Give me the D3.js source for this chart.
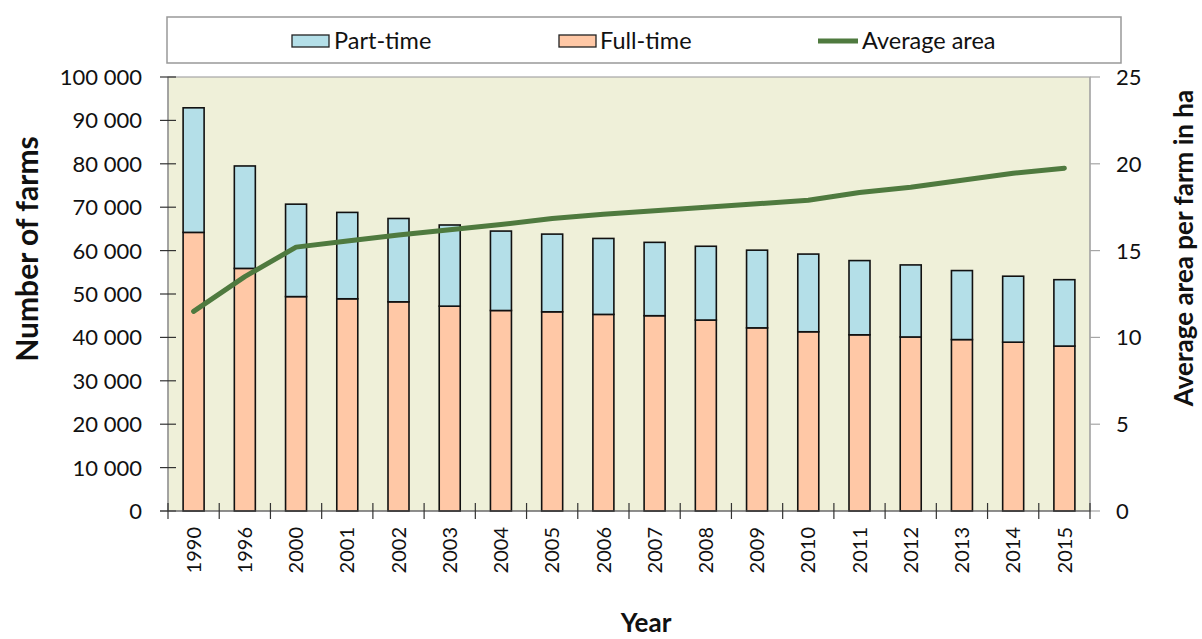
<!DOCTYPE html>
<html>
<head>
<meta charset="utf-8">
<script src="https://cdn.jsdelivr.net/npm/d3@7/dist/d3.min.js"></script>
<style>
  html, body { margin: 0; padding: 0; background: #ffffff; }
  svg { display: block; }
  text { font-family: Lato, "Open Sans", sans-serif; fill: #111; }
</style>
</head>
<body>
<svg id="chart" width="1202" height="639"></svg>
<script>
// Farm structure by year: number of farms (stacked) and average farm size
const years = ["1990","1996","2000","2001","2002","2003","2004","2005","2006","2007","2008","2009","2010","2011","2012","2013","2014","2015"];
const fullTime = [64200, 55900, 49400, 48900, 48200, 47200, 46200, 45900, 45300, 45000, 44000, 42200, 41300, 40600, 40100, 39500, 38900, 38000];
const totalFarms = [92900, 79500, 70700, 68800, 67400, 65900, 64500, 63800, 62800, 61900, 61000, 60100, 59200, 57700, 56700, 55400, 54100, 53300];
const partTime = totalFarms.map((t, i) => t - fullTime[i]);
const avgArea = [11.5, 13.5, 15.2, 15.55, 15.9, 16.2, 16.5, 16.85, 17.1, 17.3, 17.5, 17.7, 17.9, 18.35, 18.65, 19.05, 19.45, 19.75];
const leftTicks = [0, 10000, 20000, 30000, 40000, 50000, 60000, 70000, 80000, 90000, 100000];
const rightTicks = [0, 5, 10, 15, 20, 25];
const seriesNames = ["Part-time", "Full-time", "Average area"];

const colors = { part: "#b4dfe8", full: "#ffc8a6", line: "#4f7a3f", plot: "#eff0d9" };

const svg = d3.select("#chart");
const plot = { left: 168, right: 1090, top: 77, bottom: 511 };

const x = d3.scaleBand().domain(years).range([plot.left, plot.right]).padding(0);
const bw = x.bandwidth();
const barW = bw * 0.41;
const yL = d3.scaleLinear().domain([0, 100000]).range([plot.bottom, plot.top]);
const yR = d3.scaleLinear().domain([0, 25]).range([plot.bottom, plot.top]);

// plot background
svg.append("rect")
  .attr("x", plot.left).attr("y", plot.top)
  .attr("width", plot.right - plot.left).attr("height", plot.bottom - plot.top)
  .attr("fill", colors.plot).attr("stroke", "#a6a6a6").attr("stroke-width", 1.2);

// stacked bars
const rows = years.map((yr, i) => ({ year: yr, full: fullTime[i], part: partTime[i] }));
const stack = d3.stack().keys(["full", "part"])(rows);
const fills = { full: colors.full, part: colors.part };
stack.forEach(layer => {
  svg.append("g").selectAll("rect").data(layer).join("rect")
    .attr("x", d => x(d.data.year) + (bw - barW) / 2)
    .attr("y", d => yL(d[1]))
    .attr("width", barW)
    .attr("height", d => yL(d[0]) - yL(d[1]))
    .attr("fill", fills[layer.key])
    .attr("stroke", "#111").attr("stroke-width", 1.6);
});

// left axis
const gL = svg.append("g");
gL.append("line").attr("x1", plot.left).attr("x2", plot.left)
  .attr("y1", plot.top).attr("y2", plot.bottom).attr("stroke", "#8c8c8c").attr("stroke-width", 1.2);
gL.selectAll("line.t").data(leftTicks).join("line").attr("class", "t")
  .attr("x1", plot.left - 8).attr("x2", plot.left + 8)
  .attr("y1", d => yL(d)).attr("y2", d => yL(d))
  .attr("stroke", "#333").attr("stroke-width", 1.2);
gL.selectAll("text").data(leftTicks).join("text")
  .attr("x", 142).attr("y", d => yL(d)).attr("dy", "0.36em")
  .attr("text-anchor", "end").attr("font-size", 22)
  .text(d => d3.format(",")(d).replace(/,/g, " "));

// right axis
const gR = svg.append("g");
gR.append("line").attr("x1", plot.right).attr("x2", plot.right)
  .attr("y1", plot.top).attr("y2", plot.bottom).attr("stroke", "#a6a6a6").attr("stroke-width", 1.2);
gR.selectAll("line.t").data(rightTicks).join("line").attr("class", "t")
  .attr("x1", plot.right).attr("x2", plot.right + 10)
  .attr("y1", d => yR(d)).attr("y2", d => yR(d))
  .attr("stroke", "#a6a6a6").attr("stroke-width", 1.2);
gR.selectAll("text").data(rightTicks).join("text")
  .attr("x", 1116).attr("y", d => yR(d)).attr("dy", "0.36em")
  .attr("text-anchor", "start").attr("font-size", 22)
  .text(d => d);

// bottom axis with crossing ticks at category boundaries
const gB = svg.append("g");
gB.append("line").attr("x1", plot.left - 8).attr("x2", plot.right)
  .attr("y1", plot.bottom).attr("y2", plot.bottom).attr("stroke", "#555").attr("stroke-width", 1.2);
const bounds = d3.range(years.length + 1).map(i => plot.left + i * bw);
gB.selectAll("line.t").data(bounds).join("line").attr("class", "t")
  .attr("x1", d => d).attr("x2", d => d)
  .attr("y1", plot.bottom - 8).attr("y2", plot.bottom + 8)
  .attr("stroke", "#333").attr("stroke-width", 1.2);
gB.selectAll("text").data(years).join("text")
  .attr("transform", d => `translate(${x(d) + bw / 2},527) rotate(-90)`)
  .attr("text-anchor", "end").attr("dy", "0.36em")
  .attr("font-size", 20)
  .text(d => d);

// average area line
const line = d3.line().x((d, i) => x(years[i]) + bw / 2).y(d => yR(d));
svg.append("path").datum(avgArea)
  .attr("d", line).attr("fill", "none")
  .attr("stroke", colors.line).attr("stroke-width", 5)
  .attr("stroke-linejoin", "round").attr("stroke-linecap", "round");

// axis titles
svg.append("text").attr("transform", "translate(27,249) rotate(-90)")
  .attr("text-anchor", "middle").attr("dy", "0.35em")
  .attr("font-weight", "bold").attr("font-size", 30)
  .text("Number of farms");
svg.append("text").attr("transform", "translate(1184,248) rotate(-90)")
  .attr("text-anchor", "middle").attr("dy", "0.35em")
  .attr("font-weight", "bold").attr("font-size", 26)
  .text("Average area per farm in ha");
svg.append("text").attr("x", 646).attr("y", 632)
  .attr("text-anchor", "middle")
  .attr("font-weight", "bold").attr("font-size", 26)
  .text("Year");

// legend
const lg = svg.append("g");
lg.append("rect").attr("x", 167).attr("y", 17).attr("width", 954).attr("height", 46)
  .attr("fill", "#fff").attr("stroke", "#999").attr("stroke-width", 1.5);
const ly = 41;
lg.append("rect").attr("x", 292).attr("y", ly - 6).attr("width", 37).attr("height", 12)
  .attr("fill", colors.part).attr("stroke", "#222").attr("stroke-width", 1.3);
lg.append("text").attr("x", 334).attr("y", ly).attr("dy", "0.36em").attr("font-size", 23.5).text(seriesNames[0]);
lg.append("rect").attr("x", 559).attr("y", ly - 6).attr("width", 37).attr("height", 12)
  .attr("fill", colors.full).attr("stroke", "#222").attr("stroke-width", 1.3);
lg.append("text").attr("x", 600).attr("y", ly).attr("dy", "0.36em").attr("font-size", 23.5).text(seriesNames[1]);
lg.append("line").attr("x1", 818).attr("x2", 858).attr("y1", ly).attr("y2", ly)
  .attr("stroke", colors.line).attr("stroke-width", 5);
lg.append("text").attr("x", 862).attr("y", ly).attr("dy", "0.36em").attr("font-size", 23.5).text(seriesNames[2]);
</script>
</body>
</html>
